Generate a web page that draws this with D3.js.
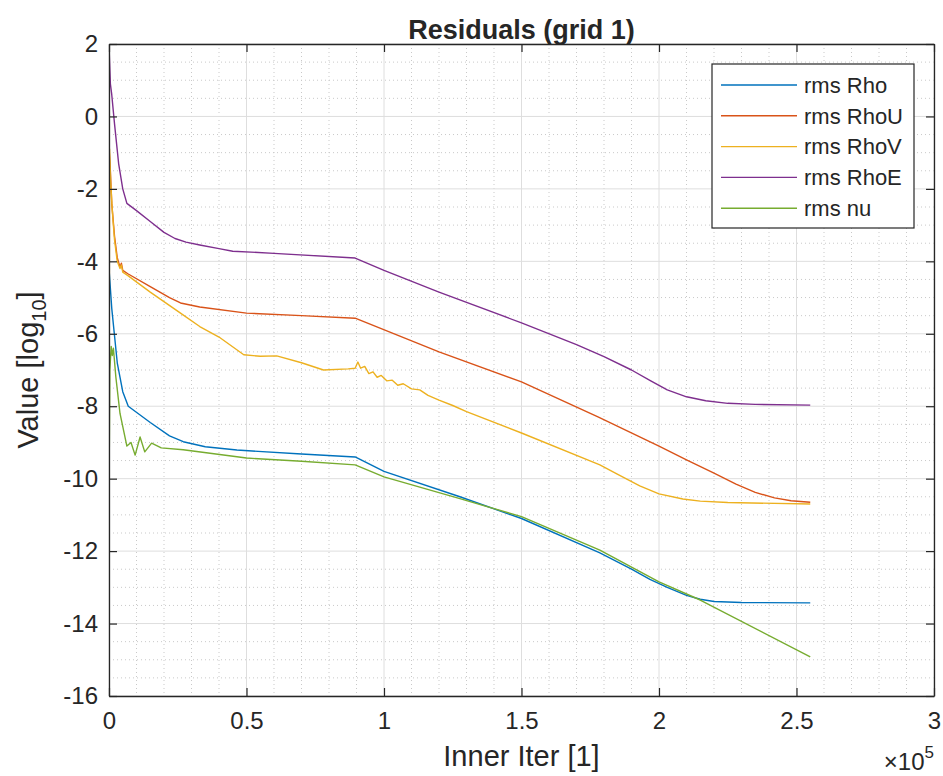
<!DOCTYPE html>
<html>
<head>
<meta charset="utf-8">
<script src="https://cdn.jsdelivr.net/npm/d3@7/dist/d3.min.js"></script>
<style>
	body { margin: 0; background: #fff; }
	text { font-family: "Liberation Sans", Arial, sans-serif; fill: #262626; }
</style>
</head>
<body>
<div id="viz"></div>
<script>
// iterations in units of 1e5, values in log10
const rhoPts = [[0, -4.2], [0.01, -5.3], [0.03, -6.8], [0.05, -7.6], [0.07, -8.0], [0.15, -8.45], [0.22, -8.82], [0.27, -8.98], [0.35, -9.12], [0.465, -9.21], [0.7, -9.32], [0.895, -9.4], [1.0, -9.8], [1.276, -10.5], [1.5, -11.1], [1.785, -12.05], [1.9, -12.5], [1.967, -12.78], [2.03, -13.0], [2.1, -13.22], [2.15, -13.33], [2.2, -13.39], [2.3, -13.42], [2.55, -13.43]];
const rhoUPts = [[0, -0.85], [0.005, -1.5], [0.01, -2.4], [0.02, -3.3], [0.03, -3.9], [0.04, -4.16], [0.045, -4.05], [0.05, -4.25], [0.07, -4.35], [0.15, -4.7], [0.22, -5.0], [0.26, -5.15], [0.33, -5.26], [0.5, -5.43], [0.7, -5.5], [0.895, -5.57], [1.2, -6.5], [1.5, -7.33], [1.78, -8.3], [2.0, -9.1], [2.1, -9.48], [2.2, -9.85], [2.28, -10.15], [2.35, -10.38], [2.42, -10.53], [2.48, -10.61], [2.55, -10.65]];
const rhoVPts = [[0, -10.8], [0.002, -0.9], [0.006, -1.8], [0.012, -2.6], [0.02, -3.4], [0.03, -4.0], [0.04, -4.2], [0.045, -4.1], [0.05, -4.3], [0.07, -4.4], [0.15, -4.85], [0.26, -5.43], [0.33, -5.8], [0.4, -6.09], [0.49, -6.58], [0.55, -6.62], [0.61, -6.61], [0.7, -6.8], [0.78, -7.0], [0.87, -6.97], [0.895, -6.95], [0.905, -6.78], [0.915, -6.95], [0.93, -6.9], [0.945, -7.1], [0.96, -7.05], [0.975, -7.2], [0.99, -7.15], [1.01, -7.3], [1.03, -7.28], [1.05, -7.42], [1.07, -7.38], [1.1, -7.52], [1.13, -7.55], [1.16, -7.7], [1.2, -7.83], [1.25, -7.98], [1.3, -8.15], [1.5, -8.74], [1.785, -9.62], [1.85, -9.88], [1.93, -10.2], [2.0, -10.42], [2.087, -10.56], [2.15, -10.62], [2.25, -10.66], [2.55, -10.7]];
const rhoEPts = [[0, 1.95], [0.005, 0.9], [0.01, 0.6], [0.02, -0.2], [0.035, -1.3], [0.05, -2.0], [0.065, -2.4], [0.1, -2.6], [0.15, -2.9], [0.2, -3.2], [0.24, -3.37], [0.28, -3.47], [0.33, -3.55], [0.4, -3.65], [0.45, -3.72], [0.6, -3.78], [0.895, -3.91], [1.0, -4.25], [1.2, -4.85], [1.5, -5.7], [1.7, -6.3], [1.8, -6.63], [1.9, -7.0], [1.97, -7.3], [2.03, -7.55], [2.1, -7.74], [2.17, -7.85], [2.25, -7.92], [2.35, -7.95], [2.55, -7.97]];
const nuPts = [[0, -10.6], [0.003, -7.0], [0.008, -6.35], [0.012, -6.6], [0.016, -6.4], [0.025, -7.2], [0.04, -8.2], [0.065, -9.1], [0.08, -9.0], [0.095, -9.35], [0.113, -8.85], [0.13, -9.26], [0.155, -9.02], [0.19, -9.15], [0.27, -9.2], [0.5, -9.43], [0.7, -9.52], [0.895, -9.62], [1.0, -9.95], [1.276, -10.55], [1.5, -11.05], [1.785, -11.97], [2.0, -12.85], [2.15, -13.35], [2.55, -14.92]];

const seriesNames = ["rms Rho", "rms RhoU", "rms RhoV", "rms RhoE", "rms nu"];
const seriesColors = ["#0072BD", "#D95319", "#EDB120", "#7E2F8E", "#77AC30"];
const xTicks = [0, 0.5, 1, 1.5, 2, 2.5, 3];
const yTicks = [2, 0, -2, -4, -6, -8, -10, -12, -14, -16];

const series = [rhoPts, rhoUPts, rhoVPts, rhoEPts, nuPts];

const W = 943, H = 776;
const margin = { top: 44, right: 9, bottom: 80, left: 109 };
const width = W - margin.left - margin.right,
	height = H - margin.top - margin.bottom;

const svg = d3.select("#viz").append("svg")
	.attr("width", W)
	.attr("height", H);

const g = svg.append("g")
	.attr("transform", `translate(${margin.left},${margin.top})`);

const x = d3.scaleLinear().domain([0, 3]).range([0, width]);
const y = d3.scaleLinear().domain([-16, 2]).range([height, 0]);

// minor grid (dotted)
g.append("g").selectAll("line")
	.data(d3.range(0, 3.001, 0.1).filter((v) => Math.abs(v * 2 - Math.round(v * 2)) > 1e-6))
	.join("line")
	.attr("x1", (d) => x(d)).attr("x2", (d) => x(d))
	.attr("y1", 0).attr("y2", height)
	.attr("stroke", "#c9c9c9").attr("stroke-dasharray", "1,3");
g.append("g").selectAll("line")
	.data(d3.range(-16, 2.001, 0.5).filter((v) => Math.abs(v / 2 - Math.round(v / 2)) > 1e-6))
	.join("line")
	.attr("y1", (d) => y(d)).attr("y2", (d) => y(d))
	.attr("x1", 0).attr("x2", width)
	.attr("stroke", "#c9c9c9").attr("stroke-dasharray", "1,3");

// major grid
g.append("g").selectAll("line").data(xTicks).join("line")
	.attr("x1", (d) => x(d)).attr("x2", (d) => x(d))
	.attr("y1", 0).attr("y2", height)
	.attr("stroke", "#dedede");
g.append("g").selectAll("line").data(yTicks).join("line")
	.attr("y1", (d) => y(d)).attr("y2", (d) => y(d))
	.attr("x1", 0).attr("x2", width)
	.attr("stroke", "#dedede");

// lines
svg.append("defs").append("clipPath").attr("id", "clip")
	.append("rect").attr("width", width).attr("height", height);

const line = d3.line().x((d) => x(d[0])).y((d) => y(d[1]));

g.append("g").attr("clip-path", "url(#clip)")
	.selectAll("path").data(series).join("path")
	.attr("d", line)
	.attr("fill", "none")
	.attr("stroke", (d, i) => seriesColors[i])
	.attr("stroke-width", 1.4)
	.attr("stroke-linejoin", "round");

// axes, ticks inward, box on
const styleAxis = (sel) => {
	sel.selectAll(".domain").attr("stroke", "#262626").attr("stroke-width", 1.3);
	sel.selectAll(".tick line").attr("stroke", "#262626").attr("stroke-width", 1.2);
	sel.selectAll(".tick text").attr("fill", "#262626").style("font-size", "24px")
		.style("font-family", "'Liberation Sans', Arial, sans-serif");
};

g.append("g").attr("transform", `translate(0,${height})`)
	.call(d3.axisBottom(x).tickValues(xTicks).tickSizeInner(-8).tickSizeOuter(0).tickPadding(16)
		.tickFormat((d) => String(d)))
	.call(styleAxis);
g.append("g")
	.call(d3.axisTop(x).tickValues(xTicks).tickSizeInner(-8).tickSizeOuter(0).tickFormat(""))
	.call(styleAxis);
g.append("g")
	.call(d3.axisLeft(y).tickValues(yTicks).tickSizeInner(-8).tickSizeOuter(0).tickPadding(11)
		.tickFormat((d) => String(d)))
	.call(styleAxis);
g.append("g").attr("transform", `translate(${width},0)`)
	.call(d3.axisRight(y).tickValues(yTicks).tickSizeInner(-8).tickSizeOuter(0).tickFormat(""))
	.call(styleAxis);

// title and labels
svg.append("text")
	.attr("x", margin.left + width / 2).attr("y", 39)
	.attr("text-anchor", "middle")
	.attr("font-weight", "bold")
	.style("font-size", "27px")
	.text("Residuals (grid 1)");

svg.append("text")
	.attr("x", margin.left + width / 2).attr("y", 766)
	.attr("text-anchor", "middle")
	.style("font-size", "29px")
	.text("Inner Iter [1]");

const ylab = svg.append("text")
	.attr("transform", `translate(38,${margin.top + height / 2}) rotate(-90)`)
	.attr("text-anchor", "middle")
	.style("font-size", "29px");
ylab.append("tspan").text("Value [log");
ylab.append("tspan").attr("dy", 8).style("font-size", "20px").text("10");
ylab.append("tspan").attr("dy", -8).text("]");

const exp = svg.append("text")
	.attr("x", 934).attr("y", 770)
	.attr("text-anchor", "end")
	.style("font-size", "24px");
exp.append("tspan").text("\u00d710");
exp.append("tspan").attr("dy", -12).style("font-size", "17px").text("5");

// legend
const lg = svg.append("g").attr("transform", "translate(712,64)");
lg.append("rect")
	.attr("width", 202).attr("height", 164)
	.attr("fill", "#fff").attr("stroke", "#262626").attr("stroke-width", 1.2);
const items = lg.selectAll("g.item").data(seriesNames).join("g")
	.attr("class", "item")
	.attr("transform", (d, i) => `translate(0,${21 + i * 30.8})`);
items.append("line")
	.attr("x1", 9).attr("x2", 85)
	.attr("stroke", (d, i) => seriesColors[i]).attr("stroke-width", 1.4);
items.append("text")
	.attr("x", 92).attr("dy", "0.35em")
	.style("font-size", "22px")
	.text((d) => d);
</script>
</body>
</html>
